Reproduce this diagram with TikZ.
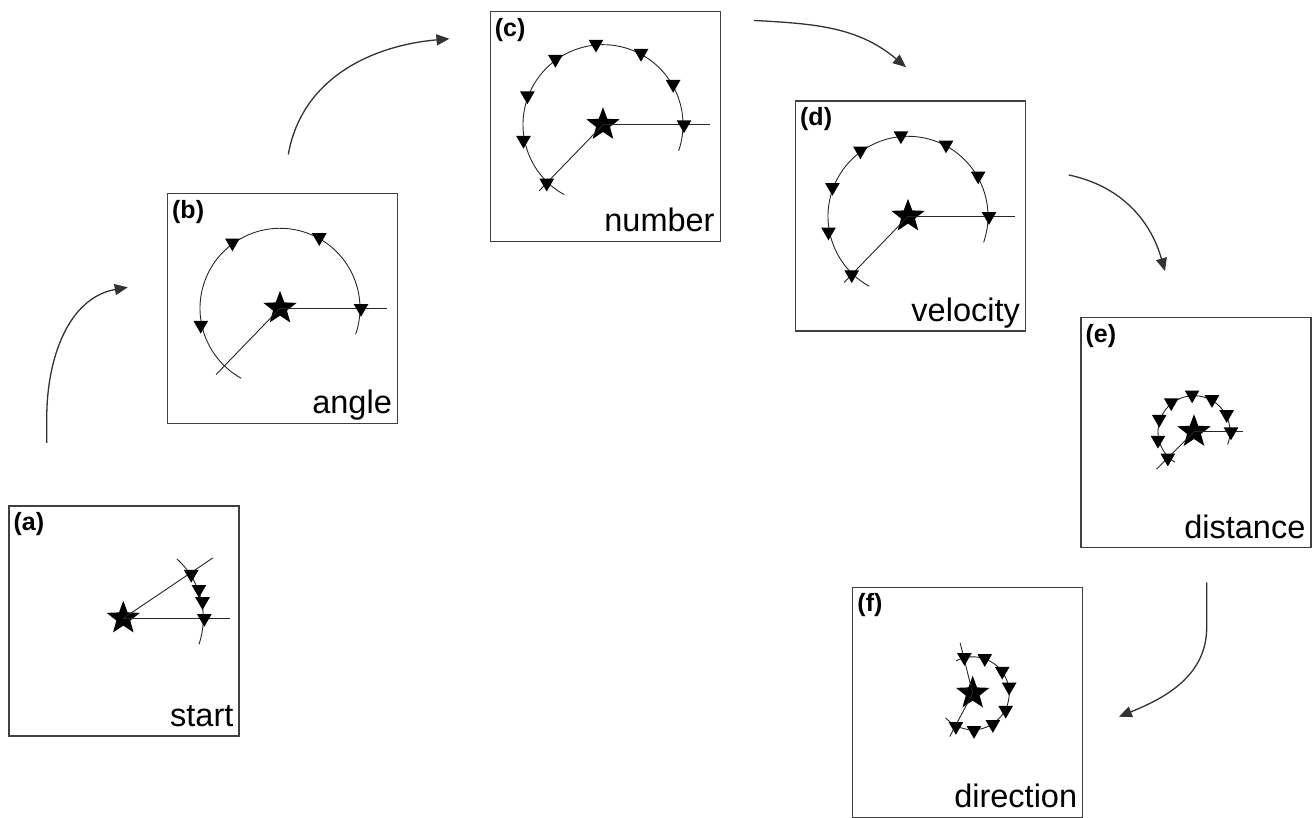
\documentclass[tikz,border=0pt]{standalone}
\usepackage{fontspec}
\setmainfont{Liberation Sans}
\usetikzlibrary{arrows.meta,shapes.geometric,positioning}

\tikzset{
  panel/.style={draw=black!75,line width=1.1pt,minimum size=230pt,inner sep=0pt},
  tag/.style={font=\fontsize{25}{29}\selectfont\bfseries,inner sep=0pt,anchor=north west},
  caption/.style={font=\fontsize{32.5}{36}\selectfont,inner sep=0pt,anchor=base east},
  goal/.style={star,star points=5,star point ratio=2.4,fill=black,inner sep=0pt,minimum size=35pt},
  beemark/.style={regular polygon,regular polygon sides=3,shape border rotate=180,fill=black,inner sep=0pt,minimum size=17pt},
  track/.style={black!85,line width=0.9pt},
  flow/.style={black!80,line width=1.3pt,-{Triangle[length=13pt,width=11pt]}}
}

\begin{document}
\begin{tikzpicture}[x=1pt,y=1pt]
\useasboundingbox (0,0) rectangle (1314,-818);

% the six panels
\node[panel] (pa) at (124,-621) {};
\node[panel] (pb) at (282.5,-308.3) {};
\node[panel] (pc) at (605.2,-126.3) {};
\node[panel] (pd) at (910.5,-216) {};
\node[panel] (pe) at (1196,-432.5) {};
\node[panel] (pf) at (967.8,-702.2) {};

\node[tag] (ta) at ([shift={(5pt,-7pt)}]pa.north west) {(a)};
\node[tag] (tb) at ([shift={(5pt,-7pt)}]pb.north west) {(b)};
\node[tag] (tc) at ([shift={(5pt,-7pt)}]pc.north west) {(c)};
\node[tag] (td) at ([shift={(5pt,-7pt)}]pd.north west) {(d)};
\node[tag] (te) at ([shift={(5pt,-7pt)}]pe.north west) {(e)};
\node[tag] (tf) at ([shift={(5pt,-7pt)}]pf.north west) {(f)};

\node[caption] (ca) at ([shift={(-6pt,10pt)}]pa.south east) {start};
\node[caption] (cb) at ([shift={(-6pt,10pt)}]pb.south east) {angle};
\node[caption] (cc) at ([shift={(-6pt,10pt)}]pc.south east) {number};
\node[caption] (cd) at ([shift={(-6pt,10pt)}]pd.south east) {velocity};
\node[caption] (ce) at ([shift={(-6pt,10pt)}]pe.south east) {distance};
\node[caption] (cf) at ([shift={(-6pt,10pt)}]pf.south east) {direction};

% (a) start
\node[goal] (sa) at (123.3,-618.3) {};
\draw[track] (sa.center) -- ++(0:107);
\draw[track] (sa.center) -- ++(34:108);
\draw[track] (sa.center) ++(-19:80) arc[start angle=-19,end angle=48,radius=80];
\foreach \a [count=\i] in {0,12,21,33}
  \node[beemark] (ma\i) at ([shift={(\a:81)}]sa.center) {};

% (b) angle
\node[goal] (sb) at (280,-308.3) {};
\draw[track] (sb.center) -- ++(0:107);
\draw[track] (sb.center) -- ++(226:92);
\draw[track] (sb.center) ++(-19:80) arc[start angle=-19,end angle=241,radius=80];
\foreach \a [count=\i] in {0,61,126,192}
  \node[beemark] (mb\i) at ([shift={(\a:81)}]sb.center) {};

% (c) number
\node[goal] (sc) at (603,-124.7) {};
\draw[track] (sc.center) -- ++(0:107);
\draw[track] (sc.center) -- ++(226:92);
\draw[track] (sc.center) ++(-19:80) arc[start angle=-19,end angle=241,radius=80];
\foreach \a [count=\i] in {0,30,62,95,126,159,191,226}
  \node[beemark] (mc\i) at ([shift={(\a:81)}]sc.center) {};

% (d) velocity
\node[goal] (sd) at (908,-216.3) {};
\draw[track] (sd.center) -- ++(0:107);
\draw[track] (sd.center) -- ++(226:92);
\draw[track] (sd.center) ++(-19:80) arc[start angle=-19,end angle=241,radius=80];
\foreach \a [count=\i] in {0,30,62,95,126,159,191,226}
  \node[beemark] (md\i) at ([shift={(\a:81)}]sd.center) {};

% (e) distance
\node[goal] (se) at (1194,-431.7) {};
\draw[track] (se.center) -- ++(0:49);
\draw[track] (se.center) -- ++(225:53);
\draw[track] (se.center) ++(-21:36) arc[start angle=-21,end angle=238,radius=36];
\foreach \a [count=\i] in {0,28,61,93,128,160,193,225}
  \node[beemark] (me\i) at ([shift={(\a:37)}]se.center) {};

% (f) direction
\node[goal] (sf) at (972.7,-693.3) {};
\draw[track] (sf.center) -- ++(104:52);
\draw[track] (sf.center) -- ++(242:49);
\draw[track] (sf.center) ++(117:36.5) arc[start angle=117,end angle=-138,radius=36.5];
\foreach \a [count=\i] in {103,71,37,10,-27,-57,-88,-117}
  \node[beemark] (mf\i) at ([shift={(\a:37)}]sf.center) {};

% arrows between panels
\draw[flow] ([shift={(38.3pt,62.7pt)}]pa.north west) -- ++(0,25) to[out=90,in=190] ([shift={(-39.2pt,21pt)}]pb.west);
\draw[flow] ([shift={(5.8pt,38.3pt)}]pb.north) to[out=80,in=185] ([shift={(-40.2pt,-28pt)}]pc.north west);
\draw[flow] ([shift={(33.1pt,-9.7pt)}]pc.north east) to[out=-3,in=140] ([shift={(-4.5pt,33.3pt)}]pd.north);
\draw[flow] ([shift={(42.8pt,41pt)}]pd.east) to[out=-12,in=106] ([shift={(-31pt,45.8pt)}]pe.north);
\draw[flow] ([shift={(10.7pt,-34.2pt)}]pe.south) -- ++(0,-45) to[out=-90,in=22] ([shift={(35.5pt,-14.5pt)}]pf.east);
\end{tikzpicture}
\end{document}
